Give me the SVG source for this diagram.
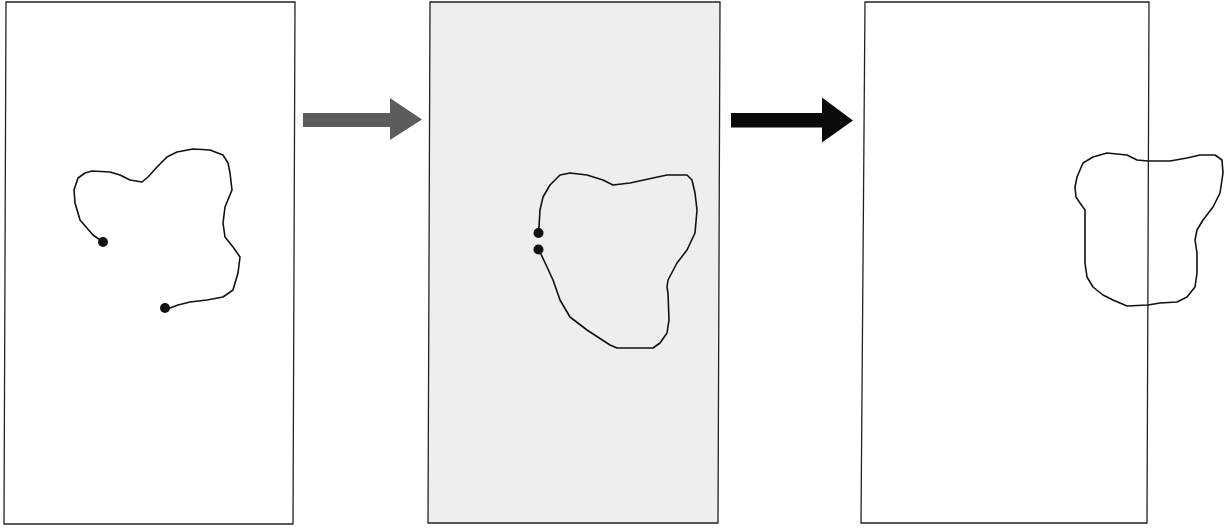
<svg xmlns="http://www.w3.org/2000/svg" width="1229" height="530" viewBox="0 0 1229 530">
<style>
.panel{stroke:#222;stroke-width:1.3}
.curve{fill:none;stroke:#111;stroke-width:1.6;stroke-linejoin:round;stroke-linecap:round}
.dot{fill:#111}
</style>
<rect width="1229" height="530" fill="#fff"/>
<g id="panel1">
<polygon class="panel" fill="#fff" points="6,2 295,2 293,524 4,524"/>
<polyline class="curve" points="103,242 93,235 80,220 75,203 74,190 78,178 85,173 92,171 110,172 120,175 130,180 142,182 148,177 157,167 167,157 177,152 193,149 210,150 223,155 228,163 230,173 232,190 225,207 223,223 225,237 233,247 240,257 238,273 233,290 223,297 207,300 190,302 178,305 170,308 165,308"/>
<circle class="dot" cx="103" cy="242" r="5"/>
<circle class="dot" cx="165" cy="308" r="5"/>
</g>
<g id="panel2">
<polygon class="panel" fill="#eeeeee" points="430,2 720,2 718,523 428,523"/>
<polyline class="curve" points="538,233 539,227 540,210 543,197 550,185 560,175 570,173 587,175 603,180 613,185 630,183 653,178 667,175 687,175 692,180 695,193 697,210 695,233 687,250 677,263 668,280 667,287 668,293 669,320 667,333 660,343 653,348 637,348 617,348 610,345 587,330 570,317 560,300 553,280 547,267 540,252 538,249"/>
<circle class="dot" cx="538.5" cy="233" r="5"/>
<circle class="dot" cx="538.5" cy="249.5" r="5"/>
</g>
<g id="panel3">
<polygon class="panel" fill="#fff" points="865,2 1149,2 1147,523 861,523"/>
<polygon class="curve" points="1077,177 1083,163 1093,157 1107,153 1127,155 1137,160 1148,161 1170,161 1187,158 1200,155 1215,155 1222,160 1223,173 1220,193 1213,207 1203,220 1197,230 1195,240 1197,253 1197,273 1195,287 1187,297 1177,302 1160,303 1148,305 1127,306 1113,300 1103,295 1093,287 1087,277 1085,263 1085,240 1085,210 1080,203 1076,197 1075,187"/>
</g>
<g id="connectors">
<polygon fill="#5c5c5c" points="303,113 390,113 390,98 422,119.5 390,140 390,127 303,127"/>
<polygon fill="#0a0a0a" points="731,113 822,113 822,97.5 853,120.5 822,142.5 822,127.5 731,127.5"/>
</g>
</svg>
